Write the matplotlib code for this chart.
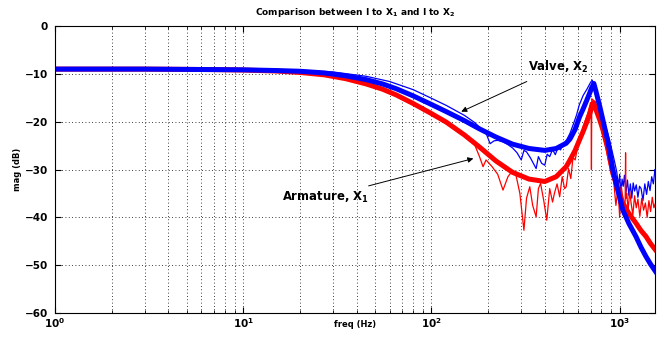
import numpy as np
import matplotlib
matplotlib.use("Agg")
import matplotlib.pyplot as plt
from matplotlib.ticker import LogLocator, NullFormatter

plt.rcParams['font.family'] = ['DejaVu Sans']
plt.rcParams['font.weight'] = 'bold'
plt.rcParams['mathtext.fontset'] = 'dejavusans'
plt.rcParams['mathtext.default'] = 'bf'

# fitted models (thick lines)
fit_freq = [1, 3, 7, 10, 15, 20, 27, 35, 45, 55, 65, 80, 100, 120, 150, 180, 220,
            270, 330, 400, 460, 520, 545, 580, 612, 640, 664, 690, 710, 729, 750,
            785, 815, 870, 920, 980, 1040, 1120, 1220, 1300, 1380, 1460, 1550]
fit_valve = [-9.0, -9.0, -9.1, -9.15, -9.3, -9.45, -9.8, -10.4, -11.2, -12.1, -13.1,
             -14.6, -16.4, -17.9, -19.8, -21.5, -23.2, -24.7, -25.6, -26.0, -25.6,
             -24.5, -23.6, -21.6, -19.0, -17.3, -15.8, -14.2, -12.9, -12.0, -13.8,
             -16.9, -19.7, -24.5, -30.1, -34.5, -38.5, -41.3, -44.0, -46.3, -48.2,
             -49.8, -51.3]
fit_arm = [-9.0, -9.0, -9.1, -9.2, -9.4, -9.7, -10.2, -11.0, -12.1, -13.2, -14.4,
           -16.2, -18.3, -20.1, -22.8, -25.3, -28.2, -30.6, -32.0, -32.5, -31.5,
           -29.4, -28.0, -26.0, -23.8, -22.0, -20.4, -18.6, -17.0, -16.0, -17.6,
           -19.7, -21.7, -26.0, -30.8, -34.2, -37.0, -39.2, -41.2, -42.8, -44.0,
           -45.5, -46.8]

# measured responses (thin lines)
meas_valve_freq = [1, 10, 20, 30, 45, 60, 80, 100, 120, 150, 170, 185, 195, 205, 215,
                   225, 240, 255, 270, 285, 300, 310, 320, 335, 350, 360, 370, 385,
                   400, 412, 425, 440, 455, 470, 485, 500, 520, 545, 570, 590, 610,
                   640, 670, 700, 715, 730, 760, 790, 820, 850, 880, 910, 940, 965,
                   985, 1000, 1015, 1030, 1045, 1060, 1080, 1100, 1120, 1140, 1160,
                   1180, 1200, 1225, 1250, 1275, 1300, 1330, 1360, 1390, 1420, 1450,
                   1480, 1510, 1540, 1550]
meas_valve = [-9.0, -9.1, -9.3, -9.6, -10.5, -11.6, -13.3, -15.1, -16.6, -18.7, -20.2,
              -21.6, -22.4, -24.6, -24.0, -23.9, -24.2, -24.8, -25.5, -26.5, -28.0,
              -26.0, -26.3, -27.5, -28.9, -29.8, -27.3, -28.7, -29.1, -26.8, -27.3,
              -25.8, -26.9, -25.4, -25.9, -24.6, -24.0, -22.4, -20.3, -18.6, -16.5,
              -14.5, -13.2, -11.8, -11.3, -12.5, -15.0, -17.5, -19.5, -21.5, -23.6,
              -26.0, -28.4, -30.5, -33.5, -31.0, -35.0, -32.0, -33.5, -31.2, -34.8,
              -32.2, -35.5, -33.0, -36.0, -32.8, -34.5, -33.2, -35.8, -33.5, -34.0,
              -36.5, -33.0, -35.2, -32.5, -34.4, -31.5, -33.0, -30.0, -30.5]

meas_arm_freq = [1, 10, 20, 30, 45, 60, 80, 100, 120, 150, 170, 180, 188, 195, 210,
                 225, 240, 255, 270, 280, 295, 310, 320, 333, 345, 360, 370, 380, 395,
                 410, 425, 440, 450, 465, 480, 495, 510, 520, 535, 550, 565, 580, 600,
                 620, 640, 660, 680, 700, 705, 708, 711, 725, 750, 780, 810, 840, 870,
                 900, 930, 955, 980, 1000, 1020, 1040, 1060, 1070, 1075, 1080, 1090,
                 1110, 1130, 1150, 1175, 1200, 1225, 1250, 1280, 1310, 1340, 1370,
                 1400, 1430, 1460, 1490, 1520, 1550]
meas_arm = [-9.0, -9.2, -9.7, -10.5, -12.0, -13.7, -15.9, -18.2, -19.9, -22.6, -24.9,
            -27.3, -29.4, -28.0, -29.4, -31.0, -34.3, -31.5, -30.2, -30.8, -35.0,
            -42.7, -36.0, -33.6, -37.5, -39.9, -34.0, -32.9, -36.5, -40.6, -34.0,
            -36.8, -35.0, -33.0, -35.7, -31.5, -34.0, -33.6, -29.8, -31.9, -27.5,
            -28.0, -25.0, -23.2, -21.0, -19.5, -18.0, -16.0, -16.2, -30.0, -15.2,
            -15.5, -18.0, -20.0, -22.5, -25.0, -28.0, -30.5, -32.5, -37.5, -34.0,
            -40.0, -33.5, -36.0, -37.8, -36.5, -26.5, -36.0, -35.0, -38.5, -34.5,
            -37.0, -39.5, -35.5, -38.0, -36.2, -39.8, -36.0, -38.5, -37.0, -40.0,
            -36.5, -38.8, -35.8, -38.0, -37.0]

fig = plt.figure(figsize=(6.57, 3.43), dpi=100)
ax = fig.add_axes([0.0837, 0.0875, 0.914, 0.8365])

ax.semilogx(meas_valve_freq, meas_valve, color='#0000ff', lw=0.9)
ax.semilogx(meas_arm_freq, meas_arm, color='#ff0000', lw=0.9)
ax.semilogx(fit_freq, fit_arm, color='#ff0000', lw=3.6)
ax.semilogx(fit_freq, fit_valve, color='#0000ff', lw=3.6)

ax.set_xlim(1, 1550)
ax.set_ylim(-60, 0)
ax.set_yticks([0, -10, -20, -30, -40, -50, -60])
ax.xaxis.set_minor_locator(LogLocator(base=10, subs=np.arange(2, 10)))
ax.xaxis.set_minor_formatter(NullFormatter())
ax.grid(True, which='major', color='k', linestyle=(0, (1, 3)), lw=0.6)
ax.grid(True, which='minor', axis='x', color='k', linestyle=(0, (1, 3)), lw=0.6)
ax.tick_params(which='both', direction='in', top=True, right=True, labelsize=7.5)
ax.tick_params(axis='x', pad=2)
ax.tick_params(axis='y', pad=5)
ax.tick_params(which='major', length=4)
ax.tick_params(which='minor', length=2)
for s in ax.spines.values():
    s.set_linewidth(0.8)

ax.set_title('Comparison between I to X$_1$ and I to X$_2$', fontsize=6.5,
             fontweight='bold', pad=8)
ax.set_xlabel('freq (Hz)', fontsize=6, fontweight='bold')
ax.set_ylabel('mag (dB)', fontsize=6, fontweight='bold')
ax.xaxis.set_label_coords(0.5, -0.025)
ax.yaxis.set_label_coords(-0.055, 0.5)

ax.annotate('Valve, X$_2$', xy=(144, -17.9), xytext=(324, -8.6),
            fontsize=8.4, fontweight='bold', va='center', ha='left',
            arrowprops=dict(arrowstyle='-|>', color='k', lw=0.7,
                            mutation_scale=8, shrinkA=6, shrinkB=0))
ax.annotate('Armature, X$_1$', xy=(167, -27.7), xytext=(16, -35.8),
            fontsize=8.4, fontweight='bold', va='center', ha='left',
            arrowprops=dict(arrowstyle='-|>', color='k', lw=0.7,
                            mutation_scale=8, shrinkA=3, shrinkB=0))

fig.savefig('out.png', dpi=100)
